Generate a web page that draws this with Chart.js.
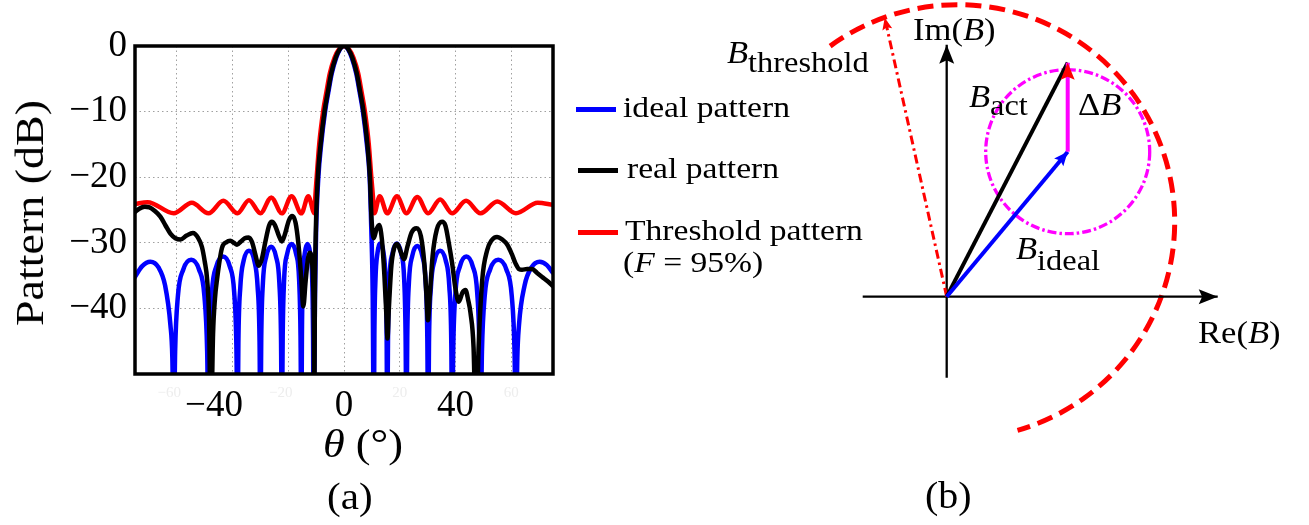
<!DOCTYPE html>
<html>
<head>
<meta charset="utf-8">
<script src="https://cdn.jsdelivr.net/npm/chart.js@4.4.1/dist/chart.umd.min.js"></script>
<style>
  body { margin: 0; background: #fff; }
  #fig { position: relative; width: 1309px; height: 525px; overflow: hidden; background: #fff;
         font-family: "Liberation Serif", "Times New Roman", serif; color: #000; }
  #fig canvas { position: absolute; }
  .t { position: absolute; white-space: nowrap; line-height: 1; font-family: "Liberation Serif", serif; }
  .leg { font-size: 30px; transform: scaleX(1.12); transform-origin: 0 50%; }
  .sw { position: absolute; width: 40px; height: 5px; }
  .m { font-size: 32px; transform: scaleX(1.08); transform-origin: 0 50%; }
  .m sub { font-size: 30px; vertical-align: 0; position: relative; }
</style>
</head>
<body>
<div id="fig">
  <canvas id="pattern" width="565" height="460" style="left:0;top:0"></canvas>
  <canvas id="vectors" width="609" height="525" style="left:700px;top:0"></canvas>

  <!-- panel (a) titles -->
  <div class="t" style="left:30px;top:213px;font-size:40px;transform:translate(-50%,-50%) rotate(-90deg) scaleX(1.15)">Pattern (dB)</div>
  <div class="t" style="left:323px;top:423px;font-size:41px;transform:scaleX(1.08);transform-origin:0 50%"><i>θ</i> (°)</div>
  <div class="t" style="left:327px;top:477px;font-size:38px;transform:scaleX(1.08);transform-origin:0 50%">(a)</div>

  <!-- legend -->
  <div class="sw" style="left:576px;top:107px;background:#0000ff"></div>
  <div class="t leg" style="left:623px;top:92px">ideal pattern</div>
  <div class="sw" style="left:578px;top:168px;background:#000"></div>
  <div class="t leg" style="left:627px;top:153px">real pattern</div>
  <div class="sw" style="left:578px;top:230px;background:#ff0000"></div>
  <div class="t leg" style="left:625px;top:215px">Threshold pattern</div>
  <div class="t leg" style="left:623px;top:247px">(<i>F</i> = 95%)</div>

  <!-- panel (b) annotations -->
  <div class="t m" style="left:913px;top:13px">Im(<i>B</i>)</div>
  <div class="t m" style="left:727px;top:36px"><i>B</i><sub style="top:9px">threshold</sub></div>
  <div class="t m" style="left:969px;top:80px"><i>B</i><sub style="top:8px">act</sub></div>
  <div class="t m" style="left:1078px;top:88px">Δ<i>B</i></div>
  <div class="t m" style="left:1016px;top:232px"><i>B</i><sub style="top:11px">ideal</sub></div>
  <div class="t m" style="left:1198px;top:316px">Re(<i>B</i>)</div>
  <div class="t" style="left:925px;top:476px;font-size:38px;transform:scaleX(1.05);transform-origin:0 50%">(b)</div>
</div>

<script>
// ---- (a) array patterns, angle in degrees, level in dB ----
const idealTheta = [
  -75.0, -72.5, -69.5, -66.5, -64.2, -62.3, -61.6, -61.1,
  -60.6, -59.6, -57.7, -54.85, -52.0, -50.1, -49.1, -48.6,
  -48.2, -47.4, -45.8, -43.4, -41.0, -39.4, -38.6, -38.2,
  -37.9, -37.2, -36.0, -34.1, -32.2, -31.0, -30.3, -30.0,
  -29.7, -29.1, -27.9, -26.15, -24.4, -23.2, -22.6, -22.3,
  -22.0, -21.5, -20.4, -18.8, -17.2, -16.1, -15.6, -15.3,
  -15.1, -14.8, -14.1, -13.1, -12.1, -11.4, -11.1, -10.9,
  -10.4, -10.0, -9.2, -8.2, -6.8, -5.6, -4.4, -2.8, -1.4, 0,
  1.4, 2.8, 4.4, 5.6, 6.8, 8.2, 9.2, 9.8, 10.3, 10.7,
  10.9, 11.3, 12.0, 13.1, 14.2, 14.9, 15.3, 15.5,
  15.8, 16.3, 17.4, 18.95, 20.5, 21.6, 22.1, 22.4,
  22.7, 23.3, 24.5, 26.3, 28.1, 29.3, 29.9, 30.2,
  30.5, 31.2, 32.5, 34.5, 36.5, 37.8, 38.5, 38.8,
  39.2, 40.0, 41.6, 43.9, 46.2, 47.8, 48.6, 49.0,
  49.5, 50.5, 52.4, 55.35, 58.3, 60.2, 61.2, 61.7,
  62.2, 62.8, 64.8, 67.2, 70.2, 72.8, 75.0
];
const idealDb = [
  -35.2, -33.6, -32.9, -33.8, -36.5, -42.5, -47.5, -60,
  -46.6, -38.1, -34.1, -32.6, -34.1, -38.1, -46.6, -60,
  -46.1, -37.6, -33.6, -32.1, -33.6, -37.6, -46.1, -60,
  -45.2, -36.7, -32.7, -31.2, -32.7, -36.7, -45.2, -60,
  -44.6, -36.1, -32.1, -30.6, -32.1, -36.1, -44.6, -60,
  -44.2, -35.7, -31.7, -30.2, -31.7, -35.7, -44.2, -60,
  -44.2, -35.7, -31.7, -30.2, -31.7, -35.7, -44.2, -60,
  -38, -28, -20, -15, -10, -7, -4.2, -1.8, -0.45, 0,
  -0.45, -1.8, -4.2, -7, -10, -15, -20, -28, -38, -60,
  -44.1, -35.6, -31.6, -30.1, -31.6, -35.6, -44.1, -60,
  -44.1, -35.6, -31.6, -30.1, -31.6, -35.6, -44.1, -60,
  -44.5, -36.0, -32.0, -30.5, -32.0, -36.0, -44.5, -60,
  -45.2, -36.7, -32.7, -31.2, -32.7, -36.7, -45.2, -60,
  -46.1, -37.6, -33.6, -32.1, -33.6, -37.6, -46.1, -60,
  -46.6, -38.1, -34.1, -32.6, -34.1, -38.1, -46.6, -60,
  -47.5, -42.5, -36.5, -33.8, -32.9, -33.4, -34.6
];

const realTheta = [
  -75.0, -73.5, -71.5, -69.8, -68.0, -65.9, -64.0, -62.3, -60.5, -58.7,
  -56.5, -54.2, -52.4, -51.0, -50.0, -49.1, -48.4, -47.8, -47.0, -46.3,
  -45.6, -43.8, -42.2, -40.8, -39.5, -38.4, -37.0, -35.6, -34.2, -33.0,
  -31.8, -30.6, -29.5, -28.2, -26.9, -25.9, -24.8, -23.4, -22.3, -21.2,
  -19.8, -18.6, -17.4, -16.4, -15.4, -14.6, -13.8, -13.0, -12.3, -11.6,
  -11.1, -10.8, -10.7, -10.45, -10.1, -9.4, -8.4, -7.0, -5.8, -4.6,
  -3.0, -1.5, 0, 1.5, 3.0, 4.6, 5.8, 7.0, 8.4, 9.3,
  9.9, 10.7, 11.6, 12.6, 13.6, 14.5, 15.2, 15.6, 16.1, 17.0,
  18.0, 19.1, 20.3, 21.5, 22.8, 24.3, 26.0, 27.6, 28.8, 29.6,
  30.1, 30.8, 31.8, 33.3, 35.2, 36.4, 37.6, 38.8, 40.0, 41.2,
  42.5, 43.6, 44.6, 45.4, 46.5, 47.4, 48.3, 49.6, 51.4, 53.0,
  54.9, 56.8, 58.6, 60.2, 61.5, 62.8, 63.9, 65.7, 67.5, 69.3,
  71.1, 73.2, 75.0
];
const realDb = [
  -25.3, -24.8, -24.5, -24.6, -25.1, -26.0, -27.4, -28.6, -29.3, -29.5,
  -28.9, -28.5, -29.2, -30.6, -32.8, -35.7, -42, -60, -44, -38.5,
  -35.7, -30.8, -29.9, -29.7, -30.0, -30.3, -29.8, -29.3, -29.2, -29.9,
  -31.8, -33.5, -32.5, -29.8, -27.4, -26.8, -27.3, -28.9, -29.8, -28.7,
  -26.6, -25.9, -26.9, -30, -35, -39.7, -36, -32.6, -31.5, -32.5,
  -36.0, -45, -60, -38, -28, -20, -15, -10, -7, -4.2,
  -1.8, -0.45, 0, -0.45, -1.8, -4.2, -7, -10, -15, -20,
  -26.5, -29.3, -28.0, -27.3, -29.5, -35, -41, -44.6, -40, -33.5,
  -30.8, -30.2, -31.3, -32.5, -30.5, -28.4, -27.8, -29.0, -33, -38,
  -41.8, -38, -32, -28.0, -26.8, -27.4, -30, -33.1, -37, -39.0,
  -37.6, -37.2, -38.8, -40.7, -46, -60, -46, -35.7, -31.1, -29.6,
  -29.1, -29.5, -30.3, -31.7, -33.1, -34.0, -34.1, -34.0, -34.0, -34.6,
  -35.2, -35.9, -36.6
];

const thresholdTheta = [
  -75, -70.5, -61.1, -54.6, -48.6, -43.3, -38.2, -34.1, -30.0, -26.1,
  -22.3, -18.8, -15.3, -12.8, -10.6, -10.3, -9.8, -8.9, -7.5, -6.3,
  -5.1, -3.4, -1.7, 0, 1.7, 3.4, 5.1, 6.3, 7.5, 8.9,
  9.8, 10.4, 10.85, 12.8, 15.5, 19.0, 22.4, 26.3, 30.2, 34.5,
  38.8, 43.8, 49.0, 55.0, 61.7, 69.5, 75
];
const thresholdDb = [
  -24.1, -23.8, -25.5, -23.9, -25.5, -23.6, -25.5, -23.5, -25.5, -23.1,
  -25.5, -22.9, -25.5, -22.9, -25.5, -23, -20, -15, -10, -7,
  -4.2, -1.8, -0.45, 0, -0.45, -1.8, -4.2, -7, -10, -15,
  -20, -23, -25.5, -22.9, -25.5, -22.9, -25.5, -23.0, -25.5, -23.4,
  -25.5, -23.6, -25.5, -23.7, -25.5, -23.9, -24.2
];

const thetaTicks = [-60, -40, -20, 0, 20, 40, 60];
const thetaLabelled = [-40, 0, 40];
const dbTicks = [-50, -40, -30, -20, -10, 0];

// ---- (b) phasor sketch, arbitrary units ----
const reAxis = [[-0.84, 0], [2.71, 0]];
const imAxis = [[0, -0.81], [0, 2.52]];
const bIdeal = [1.21, 1.45];
const bAct = [1.21, 2.34];
const bThreshold = [-0.62, 2.79];
const deltaRing = [1.21, 1.45, 0.82];        // centre x, centre y, radius
const thresholdArc = [0.11, 0.75, 2.17];      // centre x, centre y, radius
const thresholdArcSpan = [126, -74];          // degrees, drawn clockwise

const serif = '"Liberation Serif", "Times New Roman", serif';
const MINUS = '\u2212';

const xy = (xs, ys) => xs.map((x, i) => ({ x, y: ys[i] }));
const seg = pts => pts.map(([x, y]) => ({ x, y }));
const isLabelled = c => !!c.tick && thetaLabelled.includes(c.tick.value);

const framePlugin = {
  id: 'frame',
  afterDatasetsDraw(chart) {
    const { ctx, chartArea: a } = chart;
    ctx.save();
    ctx.strokeStyle = '#000';
    ctx.lineWidth = 3.5;
    ctx.strokeRect(a.left, a.top, a.right - a.left, a.bottom - a.top);
    ctx.restore();
  }
};

new Chart(document.getElementById('pattern'), {
  type: 'line',
  data: {
    datasets: [
      { label: 'real pattern', data: xy(realTheta, realDb), borderColor: '#000', borderWidth: 4.5, order: 1 },
      { label: 'Threshold pattern', data: xy(thresholdTheta, thresholdDb), borderColor: '#ff0000', borderWidth: 4.5, order: 2 },
      { label: 'ideal pattern', data: xy(idealTheta, idealDb), borderColor: '#0000ff', borderWidth: 4.5, order: 3 }
    ]
  },
  options: {
    responsive: false,
    animation: false,
    layout: { padding: { top: 46, right: 12, left: 0, bottom: 0 } },
    elements: {
      point: { radius: 0 },
      line: { cubicInterpolationMode: 'monotone', borderCapStyle: 'round', borderJoinStyle: 'round' }
    },
    plugins: { legend: { display: false }, tooltip: { enabled: false } },
    scales: {
      x: {
        type: 'linear', min: -75, max: 75,
        afterBuildTicks: s => { s.ticks = thetaTicks.map(v => ({ value: v })); },
        afterFit: s => { s.height = 86; },
        grid: { color: '#a0a0a0', lineWidth: 1, drawTicks: false },
        border: { display: false, dash: [1.5, 3] },
        ticks: {
          padding: 10, maxRotation: 0, autoSkip: false,
          color: c => isLabelled(c) ? '#000' : '#ededed',
          font: c => isLabelled(c) ? { family: serif, size: 37 } : { family: serif, size: 15 },
          // digits sit under the tick, the minus sign hangs to the left
          callback: v => v < 0 ? MINUS + (-v) + '\u2007\u2007' : String(v)
        }
      },
      y: {
        type: 'linear', min: -50, max: 0,
        afterBuildTicks: s => { s.ticks = dbTicks.map(v => ({ value: v })); },
        afterFit: s => { s.width = 135; },
        grid: { color: '#a0a0a0', lineWidth: 1, drawTicks: false },
        border: { display: false, dash: [1.5, 3] },
        ticks: {
          padding: 8, color: '#000',
          font: { family: serif, size: 37 },
          callback: v => v === -50 ? '' : (v < 0 ? MINUS + (-v) : '0')
        }
      }
    }
  },
  plugins: [framePlugin]
});

// rings under the vectors, arrow heads on top
const sketchPlugin = {
  id: 'sketch',
  beforeDatasetsDraw(chart) {
    const { ctx, scales: { x, y } } = chart;
    const ring = (c, from, to, color, width, dash) => {
      const cx = x.getPixelForValue(c[0]);
      const cy = y.getPixelForValue(c[1]);
      const r = x.getPixelForValue(c[0] + c[2]) - cx;
      ctx.save();
      ctx.strokeStyle = color;
      ctx.lineWidth = width;
      ctx.setLineDash(dash);
      ctx.beginPath();
      ctx.arc(cx, cy, r, -from * Math.PI / 180, -to * Math.PI / 180, false);
      ctx.stroke();
      ctx.restore();
    };
    ring(thresholdArc, thresholdArcSpan[0], thresholdArcSpan[1], '#ff0000', 5, [16, 8]);
    ring(deltaRing, 0, -360, '#ff00ff', 3.3, [9, 3, 2.5, 3]);
  },
  afterDatasetsDraw(chart) {
    const ctx = chart.ctx;
    chart.data.datasets.forEach((ds, i) => {
      if (!ds.head) return;
      const pts = chart.getDatasetMeta(i).data;
      const a = pts[pts.length - 2], b = pts[pts.length - 1];
      const [len, half, color] = ds.head;
      ctx.save();
      ctx.translate(b.x, b.y);
      ctx.rotate(Math.atan2(b.y - a.y, b.x - a.x));
      ctx.fillStyle = color;
      ctx.beginPath();
      ctx.moveTo(0, 0);
      ctx.lineTo(-len, half);
      ctx.lineTo(-len * 0.82, 0);
      ctx.lineTo(-len, -half);
      ctx.closePath();
      ctx.fill();
      ctx.restore();
    });
  }
};

const vec = (pts, color, width, extra) => Object.assign({
  data: seg(pts), showLine: true, borderColor: color, borderWidth: width,
  pointRadius: 0, clip: false, borderCapStyle: 'butt'
}, extra);

new Chart(document.getElementById('vectors'), {
  type: 'scatter',
  data: {
    datasets: [
      vec(reAxis, '#000', 2.3, { order: 6, head: [19, 7.5, '#000'] }),
      vec(imAxis, '#000', 2.3, { order: 5, head: [19, 7.5, '#000'] }),
      vec([[0, 0], bThreshold], '#ff0000', 3, { order: 4, borderDash: [9, 4, 2.5, 4], head: [12, 5, '#ff0000'] }),
      vec([[0, 0], bAct], '#000', 4, { order: 3 }),
      vec([[0, 0], bIdeal], '#0000ff', 4, { order: 2, head: [14, 6, '#0000ff'] }),
      vec([bIdeal, bAct], '#ff00ff', 4, { order: 1, head: [17, 7, '#ff0000'] })
    ]
  },
  options: {
    responsive: false,
    animation: false,
    layout: { padding: 0, autoPadding: false },
    plugins: { legend: { display: false }, tooltip: { enabled: false } },
    scales: {
      x: { type: 'linear', min: -2.467, max: 3.623, display: false },
      y: { type: 'linear', min: -2.283, max: 2.967, display: false }
    }
  },
  plugins: [sketchPlugin]
});
</script>
</body>
</html>
